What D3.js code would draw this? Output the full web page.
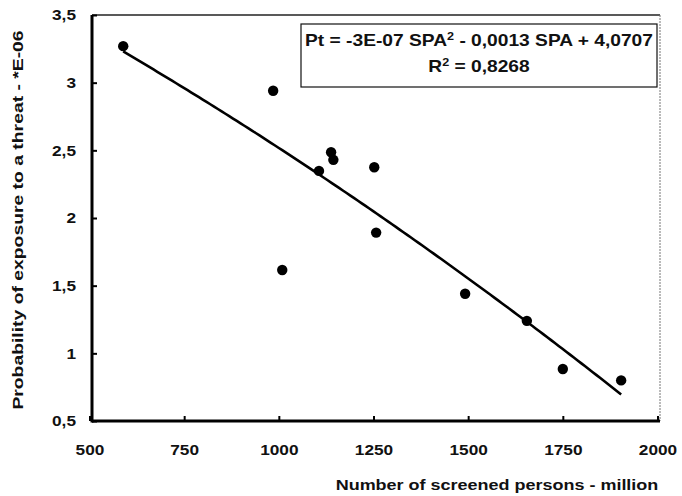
<!DOCTYPE html>
<html><head><meta charset="utf-8">
<script src="https://cdn.jsdelivr.net/npm/d3@7"></script>
<style>
body{margin:0;background:#fff;}
text{font-family:"Liberation Sans",Arial,sans-serif;font-weight:bold;fill:#111;}
</style></head><body>
<svg id="c" width="682" height="496"></svg>
<script>
const screened = [589, 985, 1138, 1144, 1106, 1009, 1252, 1257, 1492, 1655, 1750, 1904];
const probability = [3.27, 2.94, 2.486, 2.43, 2.348, 1.616, 2.375, 1.892, 1.44, 1.24, 0.884, 0.80];
const xTicks = [500, 750, 1000, 1250, 1500, 1750, 2000];
const yTicks = [0.5, 1, 1.5, 2, 2.5, 3, 3.5];
const equationText = "Pt = -3E-07 SPA";
const equationRest = " - 0,0013 SPA + 4,0707";
const r2Text = "0,8268";
const xTitle = "Number of screened persons - million";
const yTitle = "Probability of exposure to a threat - *E-06";

const svg = d3.select("#c");
const AL = 92, AR = 660, T = 15, B = 421;
const x = d3.scaleLinear().domain([500, 2000]).range([89.5, 657.5]);
const y = d3.scaleLinear().domain([0.5, 3.5]).range([B, T]);
const fmt = d => String(d).replace(".", ",");
const SX = 1.15;

// frame top/right
svg.append("line").attr("x1", AL).attr("x2", AR).attr("y1", T).attr("y2", T).attr("stroke", "#222").attr("stroke-width", 1.5);
svg.append("line").attr("x1", AR).attr("x2", AR).attr("y1", T).attr("y2", B).attr("stroke", "#777").attr("stroke-width", 1).attr("stroke-dasharray", "2,1");

// axes
const xAxis = d3.axisBottom(x).tickValues(xTicks).tickSizeInner(-5).tickSizeOuter(0).tickPadding(23).tickFormat(d => d);
const gx = svg.append("g").attr("transform", `translate(0,${B})`).call(xAxis);
const yAxis = d3.axisLeft(y).tickValues(yTicks).tickSizeInner(-5).tickSizeOuter(0).tickPadding(16).tickFormat(fmt);
const gy = svg.append("g").attr("transform", `translate(${AL},0)`).call(yAxis);
[gx, gy].forEach(g => {
  g.select(".domain").remove();
  g.selectAll(".tick line").attr("stroke", "#000").attr("stroke-width", 2);
  g.selectAll(".tick text").style("font-size", "15px").style("font-family", '"Liberation Sans",Arial,sans-serif').style("font-weight", "bold").attr("fill", "#111");
});
gx.selectAll(".tick text").attr("transform", `scale(${SX},1)`);
gy.selectAll(".tick text").attr("x", -16 / SX).attr("transform", `scale(${SX},1)`);
// axis lines
svg.append("line").attr("x1", AL).attr("x2", AR).attr("y1", B).attr("y2", B).attr("stroke", "#000").attr("stroke-width", 3);
svg.append("line").attr("x1", AL).attr("x2", AL).attr("y1", T).attr("y2", B + 1.5).attr("stroke", "#000").attr("stroke-width", 3);

// quadratic least-squares trend
function quadFit(xs, ys) {
  let S = [[0,0,0],[0,0,0],[0,0,0]], v = [0,0,0];
  xs.forEach((xi, i) => {
    const p = [1, xi, xi*xi];
    for (let a = 0; a < 3; a++) { v[a] += p[a]*ys[i]; for (let b = 0; b < 3; b++) S[a][b] += p[a]*p[b]; }
  });
  const M = S.map((r, i) => r.concat([v[i]]));
  for (let i = 0; i < 3; i++) {
    for (let k = i+1; k < 3; k++) { const f = M[k][i]/M[i][i]; for (let j = i; j < 4; j++) M[k][j] -= f*M[i][j]; }
  }
  const c = [0,0,0];
  for (let i = 2; i >= 0; i--) { let s = M[i][3]; for (let j = i+1; j < 3; j++) s -= M[i][j]*c[j]; c[i] = s/M[i][i]; }
  return c;
}
const c = quadFit(screened, probability);
const xmin = d3.min(screened), xmax = d3.max(screened);
const trend = d3.range(xmin, xmax, 10).concat([xmax]).map(v => [v, c[0] + c[1]*v + c[2]*v*v]);
svg.append("path").datum(trend)
  .attr("d", d3.line().x(d => x(d[0])).y(d => y(d[1])))
  .attr("fill", "none").attr("stroke", "#000").attr("stroke-width", 2.6);

// points
svg.selectAll("circle.pt").data(screened).join("circle")
  .attr("class", "pt").attr("cx", d => x(d)).attr("cy", (d, i) => y(probability[i])).attr("r", 5.2).attr("fill", "#000");

// equation box
svg.append("rect").attr("x", 301).attr("y", 24).attr("width", 356).attr("height", 63)
  .attr("fill", "#fff").attr("stroke", "#111").attr("stroke-width", 1.2);
const eq = svg.append("text").attr("transform", "translate(479,46) scale(1.2,1)").attr("text-anchor", "middle").style("font-size", "16px");
eq.append("tspan").text(equationText);
eq.append("tspan").attr("dy", -6).style("font-size", "10.5px").text("2");
eq.append("tspan").attr("dy", 6).text(equationRest);
const r2 = svg.append("text").attr("transform", "translate(479,72) scale(1.2,1)").attr("text-anchor", "middle").style("font-size", "16px");
r2.append("tspan").text("R");
r2.append("tspan").attr("dy", -6).style("font-size", "10.5px").text("2");
r2.append("tspan").attr("dy", 6).text(" = " + r2Text);

// titles
svg.append("text").attr("transform", "translate(497,490) scale(1.2,1)").attr("text-anchor", "middle").style("font-size", "15px").text(xTitle);
svg.append("text").attr("transform", "translate(23,220) rotate(-90) scale(1.29,1)").attr("text-anchor", "middle").style("font-size", "15px").text(yTitle);
</script>
</body></html>
